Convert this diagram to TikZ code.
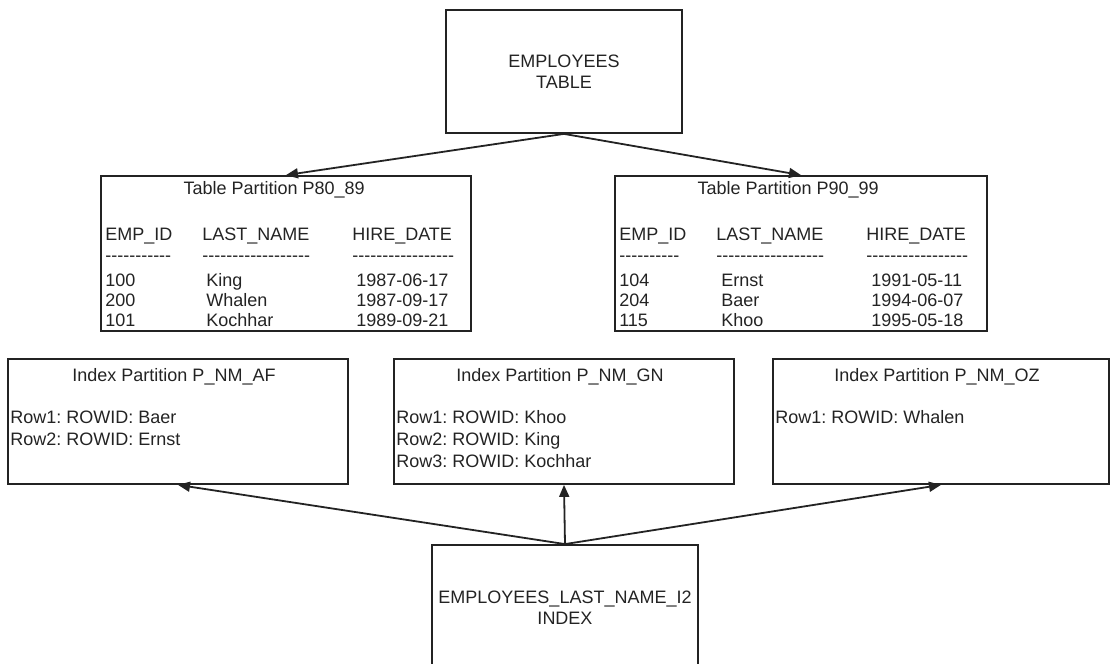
\documentclass[tikz,border=0pt]{standalone}
\usepackage{fontspec}
\setmainfont{Liberation Sans}
\usetikzlibrary{arrows.meta, positioning, calc}
\definecolor{inkgray}{RGB}{35,35,35}
\newcommand\hyrule[1]{\foreach\k in {1,...,#1}{-\kern0pt}}
\frenchspacing

\begin{document}
\begin{tikzpicture}[
    x = 1pt, y = 1pt,
    every node/.style = {font=\fontsize{18}{21}\selectfont, text=inkgray},
    bigbox/.style     = {draw=inkgray, line width=1.8pt, align=center},
    partbox/.style    = {draw=inkgray, line width=1.8pt},
    title/.style      = {anchor=base, inner sep=0pt},
    cell/.style       = {anchor=base west, inner sep=0pt},
    arr/.style        = {-{Triangle[length=12pt, width=10pt]}, draw=inkgray, line width=1.8pt},
]
\useasboundingbox (0,0) rectangle (1112,664);

% Table
\node[bigbox, minimum width=236pt, minimum height=123pt] (emp) at (564,592.5) {EMPLOYEES\\TABLE};

% Table partitions
\node[partbox, minimum width=370pt, minimum height=155pt] (p80) at (286,410.5) {};
\node[partbox, minimum width=372pt, minimum height=155pt] (p90) at (801,410.5) {};

\foreach \p/\nm/\n in {p80/P80\_89/11, p90/P90\_99/10}{
  \node[title] (\p-title) at ($(\p.north west)+(174,-19)$) {Table Partition \nm};
  \node[cell] (\p-h1) at ($(\p.north west)+(5,-65)$)   {EMP\_ID};
  \node[cell] (\p-h2) at ($(\p.north west)+(102,-65)$) {LAST\_NAME};
  \node[cell] (\p-h3) at ($(\p.north west)+(252,-65)$) {HIRE\_DATE};
  \node[cell] (\p-d1) at ($(\p.north west)+(5,-86)$)   {\hyrule{\n}};
  \node[cell] (\p-d2) at ($(\p.north west)+(102,-86)$) {\hyrule{18}};
  \node[cell] (\p-d3) at ($(\p.north west)+(252,-86)$) {\hyrule{17}};
}

\foreach \id/\who/\hired [count=\r] in {100/King/1987-06-17, 200/Whalen/1987-09-17, 101/Kochhar/1989-09-21}{
  \node[cell] (p80-id\r) at ($(p80.north west)+(5,-91-20*\r)$)   {\id};
  \node[cell] (p80-nm\r) at ($(p80.north west)+(106,-91-20*\r)$) {\who};
  \node[cell] (p80-dt\r) at ($(p80.north west)+(256,-91-20*\r)$) {\hired};
}
\foreach \id/\who/\hired [count=\r] in {104/Ernst/1991-05-11, 204/Baer/1994-06-07, 115/Khoo/1995-05-18}{
  \node[cell] (p90-id\r) at ($(p90.north west)+(5,-91-20*\r)$)   {\id};
  \node[cell] (p90-nm\r) at ($(p90.north west)+(107,-91-20*\r)$) {\who};
  \node[cell] (p90-dt\r) at ($(p90.north west)+(257,-91-20*\r)$) {\hired};
}

% Index partitions
\node[partbox, minimum width=340pt, minimum height=125pt] (af) at (178,242.5) {};
\node[partbox, minimum width=340pt, minimum height=125pt] (gn) at (564,242.5) {};
\node[partbox, minimum width=336pt, minimum height=125pt] (oz) at (941,242.5) {};

\foreach \p/\nm in {af/AF, gn/GN, oz/OZ}{
  \node[title] (\p-title) at ($(\p.north)+(-4,-23)$) {Index Partition P\_NM\_\nm};
}
\foreach \who [count=\r] in {Baer, Ernst}{
  \node[cell] (af-r\r) at ($(af.north west)+(3,-43-22*\r)$) {Row\r: ROWID: \who};
}
\foreach \who [count=\r] in {Khoo, King, Kochhar}{
  \node[cell] (gn-r\r) at ($(gn.north west)+(3,-43-22*\r)$) {Row\r: ROWID: \who};
}
\node[cell] (oz-r1) at ($(oz.north west)+(3,-65)$) {Row1: ROWID: Whalen};

% Index
\node[bigbox, minimum width=266pt, minimum height=125pt] (idx) at (565,56.5) {EMPLOYEES\_LAST\_NAME\_I2\\INDEX};

% Links
\foreach \t in {p80, p90}{
  \draw[arr] (emp.south) -- (\t.north);
}
\foreach \t in {af, gn, oz}{
  \draw[arr] (idx.north) -- (\t.south);
}

\end{tikzpicture}
\end{document}
